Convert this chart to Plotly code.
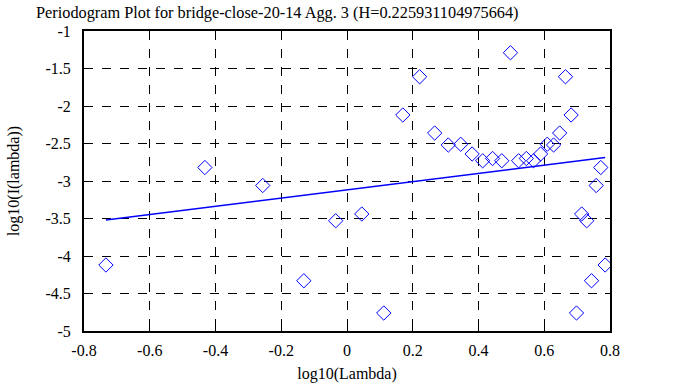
import numpy as np
import plotly.graph_objects as go

log_lambda = [-0.7333, -0.4323, -0.2562, -0.1313, -0.0343, 0.0449, 0.1118, 0.1698,
              0.2210, 0.2667, 0.3081, 0.3459, 0.3806, 0.4128, 0.4428, 0.4708,
              0.4972, 0.5220, 0.5455, 0.5677, 0.5889, 0.6091, 0.6284, 0.6469,
              0.6646, 0.6817, 0.6981, 0.7138, 0.7291, 0.7438, 0.7580, 0.7719, 0.7852]
log_I = [-4.12, -2.82, -3.06, -4.33, -3.53, -3.44, -4.76, -2.12,
         -1.61, -2.36, -2.52, -2.51, -2.64, -2.73, -2.70, -2.73,
         -1.29, -2.73, -2.70, -2.73, -2.64, -2.51, -2.52, -2.36,
         -1.61, -2.12, -4.76, -3.44, -3.53, -4.33, -3.06, -2.82, -4.12]
fit_slope = 0.548138
fit_intercept = -3.118

x_ticks = [-0.8, -0.6, -0.4, -0.2, 0, 0.2, 0.4, 0.6, 0.8]
x_ticktext = ["-0.8", "-0.6", "-0.4", "-0.2", "0", "0.2", "0.4", "0.6", "0.8"]
y_ticks = [-1, -1.5, -2, -2.5, -3, -3.5, -4, -4.5, -5]
y_ticktext = ["-1", "-1.5", "-2", "-2.5", "-3", "-3.5", "-4", "-4.5", "-5"]

fit_x = [log_lambda[0], log_lambda[-1]]
fit_y = [fit_intercept + fit_slope * v for v in fit_x]

font = "Liberation Serif"
fig = go.Figure()
fig.add_trace(go.Scatter(x=log_lambda, y=log_I, mode="markers",
                         marker=dict(symbol="diamond-open", size=11, color="#0000ff",
                                     line=dict(width=1, color="#0000ff")),
                         showlegend=False))
fig.add_trace(go.Scatter(x=fit_x, y=fit_y, mode="lines",
                         line=dict(color="#0000ff", width=1.5), showlegend=False))

axis_common = dict(showgrid=True, gridcolor="black", griddash="dash", gridwidth=1,
                   showline=True, linecolor="black", linewidth=2, mirror="ticks",
                   ticks="inside", ticklen=5, tickcolor="black", tickwidth=1,
                   zeroline=False, automargin=False,
                   tickfont=dict(family=font, size=16, color="black"))
fig.update_xaxes(range=[-0.8, 0.8], tickvals=x_ticks, ticktext=x_ticktext,
                 title=dict(text="log10(Lambda)", font=dict(family=font, size=16, color="black"),
                            standoff=10),
                 ticklabelstandoff=4, **axis_common)
fig.update_yaxes(range=[-5, -1], tickvals=y_ticks, ticktext=y_ticktext,
                 title=dict(text="log10(I(lambda))", font=dict(family=font, size=16, color="black"),
                            standoff=22),
                 ticklabelstandoff=8, **axis_common)
fig.update_layout(
    width=695, height=387,
    margin=dict(l=83.5, r=84.5, t=31, b=56),
    plot_bgcolor="white", paper_bgcolor="white",
    title=dict(text="Periodogram Plot for bridge-close-20-14 Agg. 3 (H=0.225931104975664)",
               font=dict(family=font, size=16.3, color="black"), x=0.399, xanchor="center",
               y=0.969, yanchor="middle"),
)
fig.write_html("out.html", config={"displayModeBar": False},
               post_script="document.body.style.margin='0';")
